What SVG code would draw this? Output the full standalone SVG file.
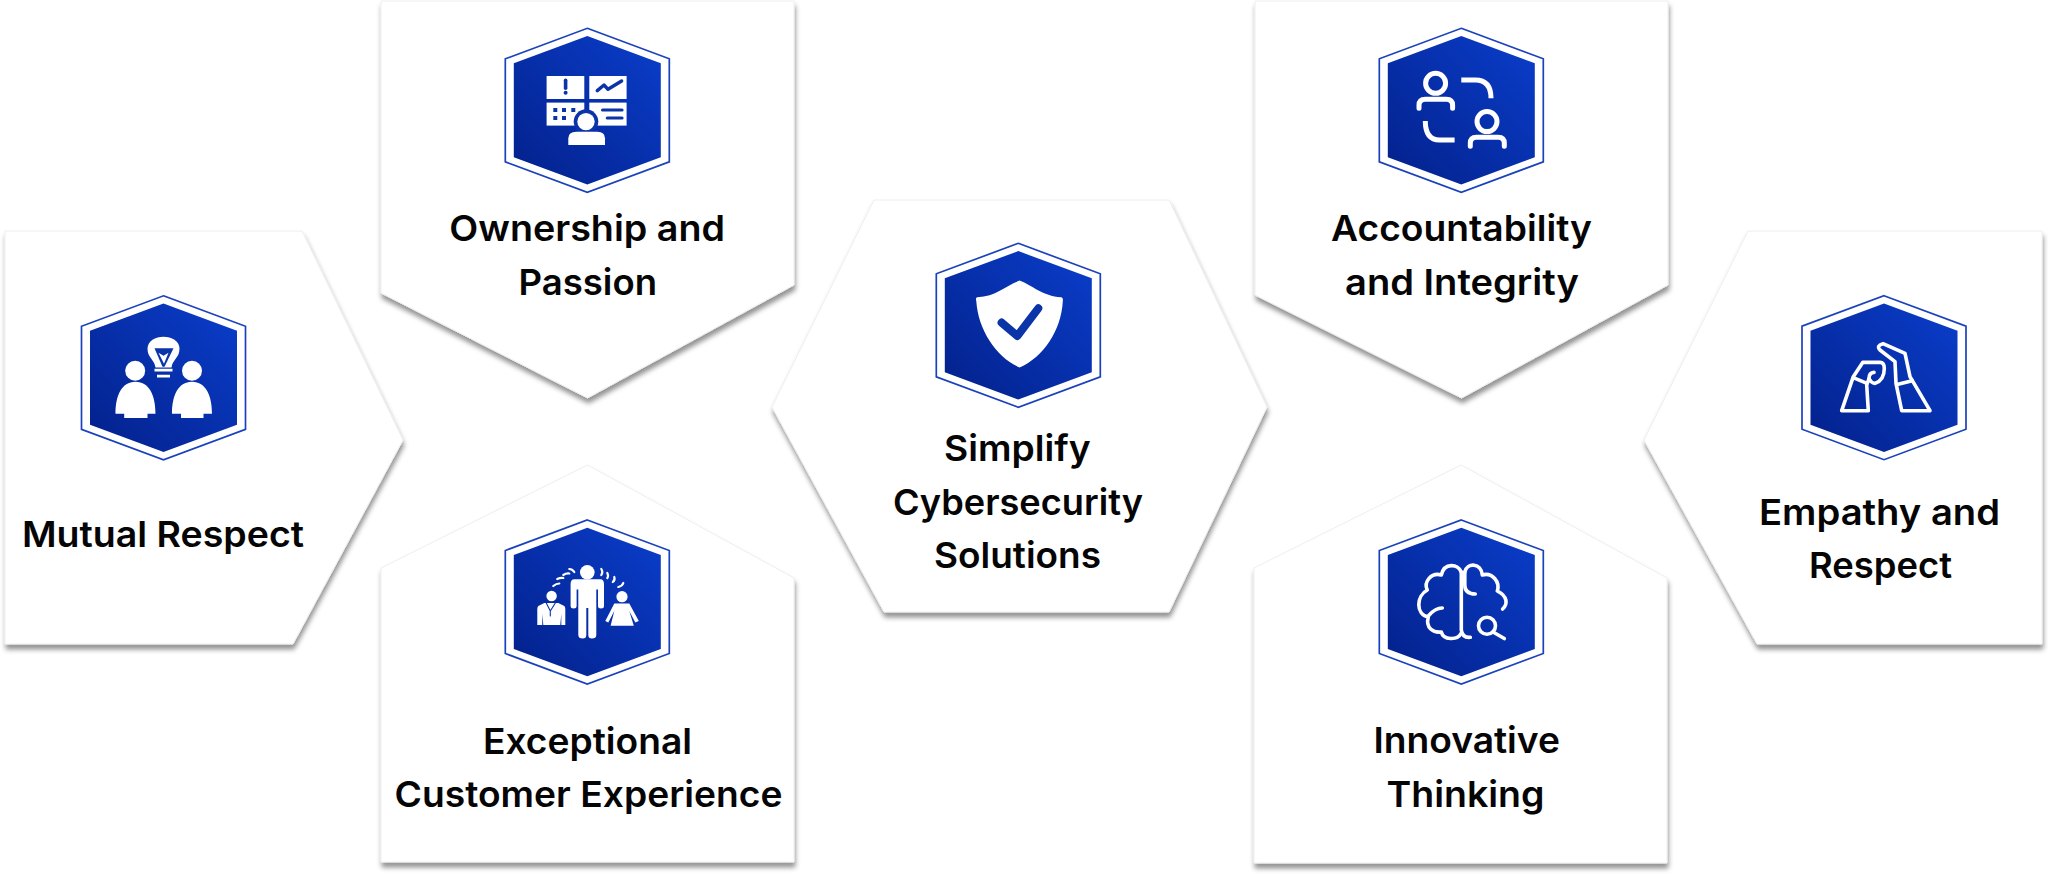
<svg xmlns="http://www.w3.org/2000/svg" width="2048" height="874" viewBox="0 0 2048 874">
<style>
.card{fill:#fff;stroke:#eeeeee;stroke-width:1;filter:url(#sh)}
.t{font-family:"Inter","Liberation Sans",sans-serif;font-weight:600;font-size:35.5px;fill:#050505}
.w{fill:#fff}
.b{fill:#0a34a8}
.ln{fill:none;stroke:#fff;stroke-linecap:round;stroke-linejoin:round}
.bl{fill:none;stroke:#0a34a8;stroke-linecap:round;stroke-linejoin:round}
</style>
<defs>
<filter id="sh" x="-10%" y="-10%" width="120%" height="120%"><feDropShadow dx="1" dy="5" stdDeviation="2.8" flood-color="#000" flood-opacity=".42"/></filter>
<linearGradient id="g" x1="0" y1="1" x2="1" y2="0"><stop offset="0" stop-color="#03208a"/><stop offset="1" stop-color="#0a3ecb"/></linearGradient>
<g id="hex">
<polygon points="0,-82 82,-51.5 82,51.5 0,82 -82,51.5 -82,-51.5" fill="#fff" stroke="#1a42bc" stroke-width="1.7"/>
<polygon points="0,-74.2 73.5,-47 73.5,47 0,74.2 -73.5,47 -73.5,-47" fill="url(#g)"/>
</g>
</defs>
<rect width="2048" height="874" fill="#fff"/>

<g id="node-mutual-respect">
<polygon class="card" points="5,231 302,231 403,440 293,644 5,644"/>
<use href="#hex" x="163.5" y="377.8"/>
<g transform="translate(163.5 377.8)">
<path class="w" d="M-8,-10.3C-9,-18-16,-20-16,-29C-16,-37-8,-41 0,-41C8,-41 16,-37 16,-29C16,-20 9,-18 8,-10.3Z"/>
<path class="b" d="M-9,-29.5L10,-29.5L1,-11L-1,-11Z"/>
<path class="w" d="M-5,-25L0,-22L5,-25L0.5,-14Z"/>
<path class="ln" d="M-9,-7.7H9M-6.5,-1.7H6.5" stroke-width="2.6" style="stroke-linecap:butt"/>
<circle class="w" cx="-28.3" cy="-7" r="10"/>
<path class="w" d="M-28,4C-42,4-48,18-48,36L-39.3,36L-39.3,40.3L-16,40.3L-16,36L-8,36C-8,18-14,4-28,4Z"/>
<circle class="w" cx="28.5" cy="-7" r="10"/>
<path class="w" d="M28.5,4C14.5,4 8.5,18 8.5,36L17.5,36L17.5,40.3L40,40.3L40,36L48.5,36C48.5,18 42.5,4 28.5,4Z"/>
</g>
<text class="t" x="22" y="547" textLength="282" lengthAdjust="spacingAndGlyphs">Mutual Respect</text>
</g>

<g id="node-ownership-passion">
<polygon class="card" points="381,1 794,1 794,285 587.5,398 381,293"/>
<use href="#hex" x="587.3" y="110.3"/>
<g transform="translate(587.3 110.3)">
<rect class="w" x="-40.7" y="-34.3" width="37.7" height="23"/>
<rect class="w" x="2" y="-34.3" width="37.3" height="23"/>
<rect class="w" x="-40.7" y="-7.7" width="37.7" height="23"/>
<rect class="w" x="2" y="-7.7" width="37.3" height="23"/>
<path class="bl" d="M-21.7,-30V-22" stroke-width="3.6"/>
<circle class="b" cx="-21.7" cy="-17.5" r="2"/>
<path class="bl" d="M10,-19.7L16.7,-25.3L20.7,-21L34.3,-29.3" stroke-width="3.4"/>
<g class="b"><rect x="-34" y="-2.3" width="4" height="4"/><rect x="-25.3" y="-2.3" width="4" height="4"/><rect x="-16" y="-2.3" width="4" height="4"/><rect x="-34" y="5.7" width="4" height="4"/><rect x="-25.3" y="5.7" width="4" height="4"/></g>
<path class="bl" d="M15.3,-0.3H34.7M20,7.7H34.7" stroke-width="3.2"/>
<circle class="b" cx="-1.3" cy="11.3" r="12.3"/>
<circle class="w" cx="-1.3" cy="11.3" r="8.7"/>
<path class="w" d="M-19,34.7V28Q-19,21.5-11,21.5H10Q17.7,21.5 17.7,28V34.7Z"/>
</g>
<text class="t" x="449.3" y="241" textLength="275.7" lengthAdjust="spacingAndGlyphs">Ownership and</text>
<text class="t" x="518.5" y="295" textLength="138.5" lengthAdjust="spacingAndGlyphs">Passion</text>
</g>

<g id="node-exceptional-customer-experience">
<polygon class="card" points="587.5,465 794,578 794,862 381,862 381,568"/>
<use href="#hex" x="587.3" y="602"/>
<g transform="translate(587.3 602)">
<circle class="w" cx="0" cy="-29.7" r="7.3"/>
<path class="w" d="M-13,-22.8H13Q16.7,-22.8 16.7,-18V4Q16.7,6.5 13.7,6.5Q10.7,6.5 10.7,4V-12.5H9V4L9,33Q9,36.5 4.5,36.5Q1,36.5 1,33V6H-1V33Q-1,36.5-4.5,36.5Q-9,36.5-9,33V-12.5H-10.7V4Q-10.7,6.5-13.7,6.5Q-16.7,6.5-16.7,4V-18Q-16.7,-22.8-13,-22.8Z"/>
<circle class="w" cx="-35.7" cy="-6" r="5.2"/>
<path class="w" d="M-43,1H-29L-23,4Q-22,5-22,7V23H-26V12L-27,23H-44L-45,12V23H-50V7Q-50,5-49,4Z"/>
<path class="bl" d="M-41,1L-37,9L-32,1M-37,9V14" stroke-width="1.1"/>
<circle class="w" cx="34.7" cy="-5.3" r="5.6"/>
<path class="w" d="M27,1.5H42L51.5,19L48,20.5L42,9L46.5,23.7H23.3L27,9L21,20.5L18,19Z"/>
<g class="ln" stroke-width="2.2">
<path d="M-34,-16Q-31,-18.5-28,-18.5"/><path d="M-30,-23Q-27,-24.5-24,-24"/><path d="M-24,-27Q-21,-29-18,-28.5"/><path d="M-18,-33Q-15,-33-13,-30"/>
<path d="M14,-33Q16,-30 14,-27"/><path d="M20,-29Q21.5,-26 20,-24"/><path d="M27,-25Q28,-22 25.5,-20"/><path d="M36,-19Q35,-16 31,-15"/>
</g>
</g>
<text class="t" x="483" y="753.5" textLength="209" lengthAdjust="spacingAndGlyphs">Exceptional</text>
<text class="t" x="394.5" y="807" textLength="388" lengthAdjust="spacingAndGlyphs">Customer Experience</text>
</g>

<g id="node-simplify-cybersecurity-solutions">
<polygon class="card" points="874,200 1169,200 1267,407 1169,612 884,612 772,407"/>
<use href="#hex" x="1018.3" y="325.3"/>
<g transform="translate(1018.3 325.3)">
<path class="w" d="M1.3,-44.7C-12,-40-22,-29-41,-28Q-43,-28-42,-24C-40,5-22,32 1.3,42.3C25,32 43,5 44.5,-24Q45,-28 43,-28C24,-29 14,-40 1.3,-44.7Z"/>
<path class="bl" d="M-16.7,-2.7L-1,10.7L20,-17" stroke-width="8"/>
</g>
<text class="t" x="944" y="461" textLength="146.6" lengthAdjust="spacingAndGlyphs">Simplify</text>
<text class="t" x="893" y="514.6" textLength="250" lengthAdjust="spacingAndGlyphs">Cybersecurity</text>
<text class="t" x="934" y="568" textLength="167" lengthAdjust="spacingAndGlyphs">Solutions</text>
</g>

<g id="node-accountability-integrity">
<polygon class="card" points="1255,1 1668,1 1668,285 1461.5,398 1255,295"/>
<use href="#hex" x="1461.3" y="110.3"/>
<g transform="translate(1461.3 110.3)" class="ln" stroke-width="5">
<circle cx="-25.7" cy="-27" r="10"/>
<path d="M-42.3,-2V-5Q-42.3,-11-36,-11H-15Q-8.7,-11-8.7,-5V-2"/>
<circle cx="25.7" cy="11.3" r="10"/>
<path d="M9,36V33Q9,27 15,27H37Q43,27 43,33V36"/>
<path d="M0,-30.3H14Q29.7,-30.3 29.7,-12" style="stroke-linecap:butt"/>
<path d="M-36,10.7Q-36,29.7-21.7,29.7H-6.7" style="stroke-linecap:butt"/>
</g>
<text class="t" x="1331" y="241" textLength="261" lengthAdjust="spacingAndGlyphs">Accountability</text>
<text class="t" x="1345" y="295" textLength="234" lengthAdjust="spacingAndGlyphs">and Integrity</text>
</g>

<g id="node-innovative-thinking">
<polygon class="card" points="1461,465 1667,578 1667,863 1254,863 1254,568"/>
<use href="#hex" x="1461.3" y="602"/>
<g transform="translate(1461.3 602)" class="ln" stroke-width="3.6">
<path d="M0,-30C-3,-38-17,-40-20,-27C-30,-30-38,-20-34,-12C-45,-6-46,12-33,15C-36,26-28,31-20,30C-18,38-4,39 0,31"/>
<path d="M3.5,-30C6,-40 20,-39 21,-27C31,-30 39,-20 36,-11C46,-6 47,2 41.3,7"/>
<path d="M0,-30V28Q1,36 9,35.3"/>
<path d="M3.5,-30V-17Q3.5,-8 14,-8"/>
<path d="M-33,14C-28,8-24,6-19,6"/>
<circle cx="25.7" cy="23.7" r="8.5"/>
<path d="M31.7,30L43,36.5"/>
</g>
<text class="t" x="1373.4" y="752.7" textLength="186.6" lengthAdjust="spacingAndGlyphs">Innovative</text>
<text class="t" x="1386.5" y="806.7" textLength="158" lengthAdjust="spacingAndGlyphs">Thinking</text>
</g>

<g id="node-empathy-respect">
<polygon class="card" points="1748,231 2042,231 2042,644 1757,644 1644,440"/>
<use href="#hex" x="1884" y="377.7"/>
<g transform="translate(1884 377.7)" class="ln" stroke-width="3.6">
<path d="M-1,-34L21,-24.3L26,-1L46,33L17.7,33L12,5.7L11,-16L-4,-27.7Q-8,-32-1,-34Z"/>
<path d="M13,6.7L28.3,3"/>
<path d="M-42.3,33L-30.7,-1L-21.3,-15.3H-4Q0.3,-15.3 0.3,-9.3Q0.3,2.3-9,5.7Q-13,5-15,1L-17.3,7.3L-15.7,33Z"/>
<path d="M-15,1Q-15,-5-10,-5.3"/>
<path d="M-29,0.7L-17,5.7"/>
</g>
<text class="t" x="1759" y="525" textLength="241" lengthAdjust="spacingAndGlyphs">Empathy and</text>
<text class="t" x="1809" y="578" textLength="143" lengthAdjust="spacingAndGlyphs">Respect</text>
</g>
</svg>
